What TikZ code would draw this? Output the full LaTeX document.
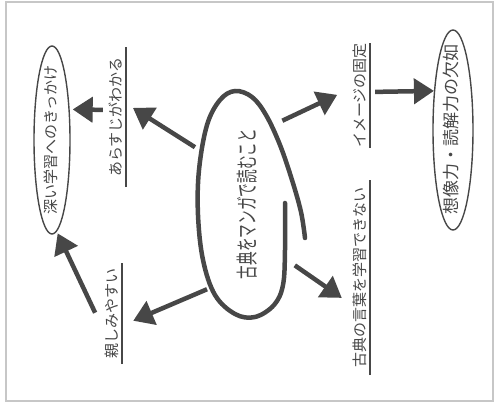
\documentclass[tikz,border=0pt]{standalone}
\usepackage{fontspec}
\usepackage{graphicx}
\newfontfamily\jpfont{Noto Sans CJK JP}
\usetikzlibrary{shapes.geometric,arrows.meta}
\definecolor{ink}{HTML}{474747}
\begin{document}
\begin{tikzpicture}[x=1pt,y=-1pt]
\useasboundingbox (0,0) rectangle (496,403);
\draw[black!22,line width=1.2pt] (6,2) rectangle (493,401);
\tikzstyle{every node}=[rotate=90,text=ink,inner sep=0pt];
\tikzstyle{txt}=[font=\jpfont\fontsize{15pt}{15pt}\selectfont,inner ysep=2pt,text height=12pt,text depth=3pt];
\tikzstyle{oval}=[txt,shape=ellipse,draw=ink,line width=1.4pt,inner xsep=-20pt];
\tikzstyle{arr}=[ink,line width=4.5pt,-{Triangle[length=20pt,width=25pt]}];
\tikzstyle{uline}=[ink,line width=1.5pt];
\node[shape=ellipse,minimum width=226pt,minimum height=104pt,font=\jpfont\fontsize{22pt}{22pt}\selectfont] (m) at (247,204) {\scalebox{0.62}[1]{古典をマンガで読むこと}};
\node[txt,minimum width=140pt] (a) at (116.5,117) {あらすじがわかる};
\node[txt,minimum width=101pt] (s) at (112.5,313.5) {親しみやすい};
\node[txt,minimum width=105pt] (i) at (360.5,95.5) {イメージの固定};
\node[txt,minimum width=195pt] (k) at (360.5,277.5) {古典の言葉を学習できない};
\node[oval,minimum width=188pt,minimum height=36pt] (f) at (52,140) {深い学習へのきっかけ};
\node[oval,minimum width=200pt,minimum height=40pt,font=\jpfont\fontsize{17pt}{17pt}\selectfont] (u) at (453,130) {想像力・読解力の欠如};
\draw[ink,line width=4.5pt,line cap=round] plot[smooth,tension=0.6] coordinates {(285,203) (285,250) (283,285) (274,305) (255,317) (235,314) (215,295) (203,260) (198,215) (199,170) (207,125) (220,100) (235,91) (252,97) (266,115) (280,145) (292,180) (301,212) (305,238)};
\draw[uline] (a.south west) -- (a.south east)
(s.south west) -- (s.south east)
(i.south west) -- (i.south east)
(k.south west) -- (k.south east);
\draw[arr,shorten <=7pt,shorten >=8pt] (m.41) -- (a.-36);
\draw[arr,shorten <=5pt,shorten >=12pt] (m.157) -- (s.-141);
\draw[arr,shorten <=4pt,shorten >=3pt] (a.54) -- (f.-30);
\draw[arr,shorten <=18pt,shorten >=2pt] (s.148) -- (f.-177);
\draw[arr,shorten >=15pt] (m.-23) -- (i.54);
\draw[arr,shorten <=5pt] (i.-70) -- (u.26);
\draw[arr,shorten <=4pt,shorten >=11pt] (m.-143) -- (k.160);
\end{tikzpicture}
\end{document}
